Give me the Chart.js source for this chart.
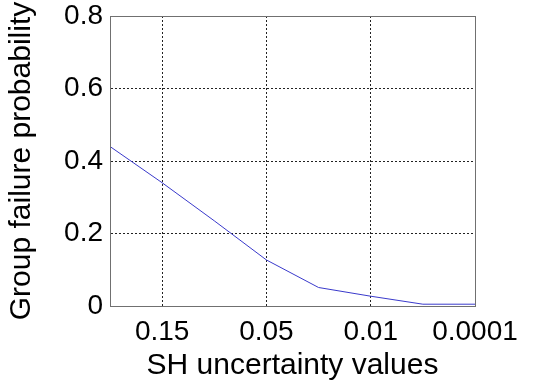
<!DOCTYPE html>
<html>
<head>
<meta charset="utf-8">
<script src="https://cdn.jsdelivr.net/npm/chart.js@4"></script>
<style>
html,body{margin:0;padding:0;background:#fff;}
#wrap{width:533px;height:392px;position:relative;}
</style>
</head>
<body>
<div id="wrap"><canvas id="c"></canvas></div>
<script>
const categories = ['', '0.15', '', '0.05', '', '0.01', '', '0.0001'];
const failureProbability = [0.44, 0.34, 0.235, 0.127, 0.051, 0.027, 0.005, 0.005];
const yTicks = [0, 0.2, 0.4, 0.6, 0.8];

const frame = {
  id: 'frame',
  afterDraw(chart) {
    const a = chart.chartArea, ctx = chart.ctx;
    ctx.save();
    ctx.strokeStyle = '#707070';
    ctx.lineWidth = 1;
    ctx.strokeRect(Math.round(a.left) + 0.5, Math.round(a.top) + 0.5, Math.round(a.right - a.left), Math.round(a.bottom - a.top));
    ctx.restore();
  }
};

new Chart(document.getElementById('c'), {
  type: 'line',
  data: {
    labels: categories,
    datasets: [{
      data: failureProbability,
      borderColor: '#3a3acb',
      borderWidth: 1,
      pointRadius: 0,
      tension: 0,
      fill: false
    }]
  },
  plugins: [frame],
  options: {
    responsive: true,
    maintainAspectRatio: false,
    animation: false,
    layout: { padding: { left: 0, right: 58, top: 16, bottom: 0 } },
    plugins: { legend: { display: false }, tooltip: { enabled: false } },
    scales: {
      x: {
        type: 'category',
        offset: false,
        afterFit(s) { s.height = 86; },
        grid: {
          drawTicks: false,
          color: (ctx) => (categories[ctx.index] ? '#222' : 'rgba(0,0,0,0)'),
          lineWidth: 1
        },
        border: { display: true, color: '#707070', dash: [2, 2] },
        ticks: {
          autoSkip: false,
          maxRotation: 0,
          padding: 12,
          color: '#000',
          font: { family: 'Liberation Sans', size: 28, lineHeight: 1.0 },
          callback: (v, i) => categories[i]
        },
        title: {
          display: true,
          text: 'SH uncertainty values',
          color: '#000',
          font: { family: 'Liberation Sans', size: 30 },
          padding: { top: 0, bottom: 8 }
        }
      },
      y: {
        min: 0,
        max: 0.8,
        afterFit(s) { s.width = 110; },
        afterBuildTicks(s) { s.ticks = yTicks.map(v => ({ value: v })); },
        grid: {
          drawTicks: false,
          color: '#222',
          lineWidth: 1
        },
        border: { display: true, color: '#707070', dash: [2, 2] },
        ticks: {
          padding: 7,
          color: '#000',
          font: { family: 'Liberation Sans', size: 28, lineHeight: 0.5 },
          callback: (v) => String(v)
        },
        title: {
          display: true,
          text: 'Group failure probability',
          color: '#000',
          font: { family: 'Liberation Sans', size: 30 },
          padding: { top: 4, bottom: 0 }
        }
      }
    }
  }
});
</script>
</body>
</html>
